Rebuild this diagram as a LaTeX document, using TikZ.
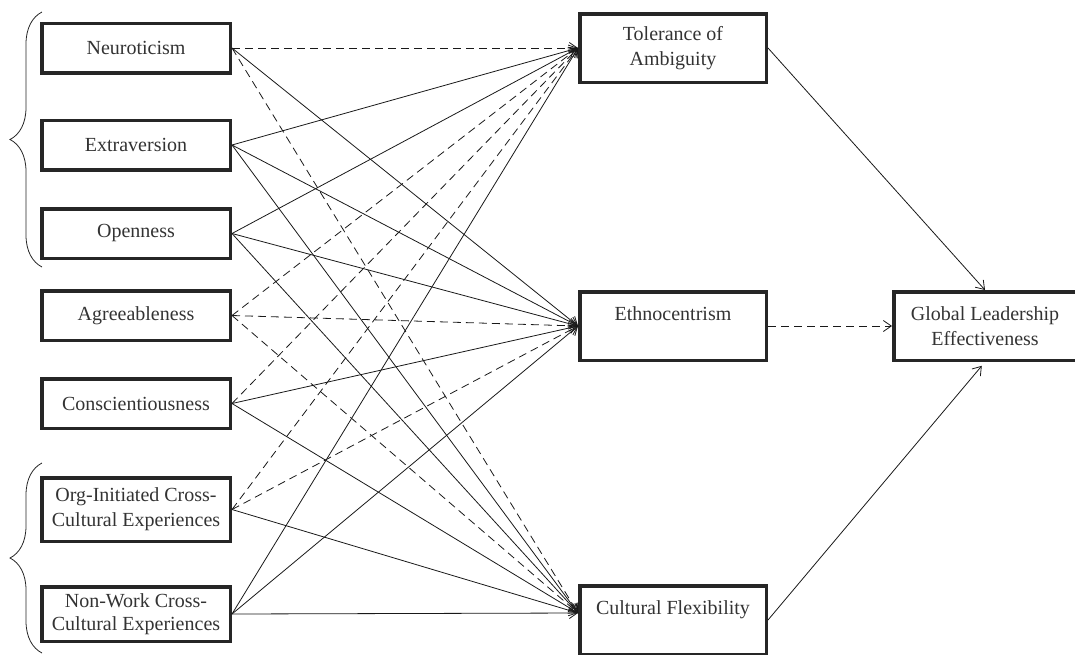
\documentclass[tikz,border=0pt]{standalone}
\usepackage{fontspec}
\setmainfont{Liberation Serif}
\usetikzlibrary{arrows.meta,decorations.pathreplacing}
\begin{document}
\begin{tikzpicture}[x=1pt, y=-1pt,
  box/.style={draw=black!85, line width=3.5pt, text=black!80, align=center, inner sep=0pt, font=\fontsize{20}{25}\selectfont},
  lbox/.style={box, minimum width=188.5pt, minimum height=49.5pt},
  mbox/.style={box, minimum width=186.5pt, minimum height=68.5pt},
  solidarr/.style={draw=black!90, line width=0.8pt, -{Straight Barb[length=8pt,width=11pt]}},
  dasharr/.style={solidarr, dash pattern=on 8pt off 5pt},
  grp/.style={draw=black!85, line width=0.8pt, decorate, decoration={brace, amplitude=32pt}}]
\useasboundingbox (0,0) rectangle (1075,654);

\node [lbox] (neuro) at (136,48) {Neuroticism};
\node [lbox] (extra) at (136,145) {Extraversion};
\node [lbox] (open) at (136,233.5) {Openness};
\node [lbox] (agree) at (136,315.5) {Agreeableness};
\node [lbox] (consc) at (136,403.5) {Conscientiousness};
\node [lbox, minimum height=63.5pt] (orgcc) at (136,509.5) {Org-Initiated Cross-\\Cultural Experiences};
\node [lbox, minimum height=54.5pt, font=\fontsize{20}{23}\selectfont] (nonwork) at (136,614) {Non-Work Cross-\\Cultural Experiences};

\draw [grp] (42,267) -- (42,12);
\draw [grp] (42,653) -- (42,463);

\node [mbox] (tol) at (673,48) {Tolerance of\\Ambiguity};
\node [mbox] (ethno) at (673,326) {Ethnocentrism\\~};
\node [mbox] (cflex) at (673,620) {Cultural Flexibility\\~};
\node [box, minimum width=182.5pt, minimum height=68.5pt] (gle) at (985,326) {Global Leadership\\Effectiveness};
\coordinate (cfin) at ([yshift=7pt]cflex.west);

\draw [dasharr] (neuro.east) -- (tol.west);
\draw [solidarr] (neuro.east) -- (ethno.west);
\draw [dasharr] (neuro.east) -- (cfin);

\draw [solidarr] (extra.east) -- (tol.west);
\draw [solidarr] (extra.east) -- (ethno.west);
\draw [solidarr] (extra.east) -- (cfin);

\draw [solidarr] (open.east) -- (tol.west);
\draw [solidarr] (open.east) -- (ethno.west);
\draw [solidarr] (open.east) -- (cfin);

\draw [dasharr] (agree.east) -- (tol.west);
\draw [dasharr] (agree.east) -- (ethno.west);
\draw [dasharr] (agree.east) -- (cfin);

\draw [dasharr] (consc.east) -- (tol.west);
\draw [solidarr] (consc.east) -- (ethno.west);
\draw [solidarr] (consc.east) -- (cfin);

\draw [dasharr] (orgcc.east) -- (tol.west);
\draw [dasharr] (orgcc.east) -- (ethno.west);
\draw [solidarr] (orgcc.east) -- (cfin);

\draw [solidarr] (nonwork.east) -- (tol.west);
\draw [solidarr] (nonwork.east) -- (ethno.west);
\draw [solidarr] (nonwork.east) -- (cfin);

\draw [solidarr] (tol.east) -- (gle.north);
\draw [dasharr] (ethno.east) -- (gle.west);
\draw [solidarr, shorten >=5pt] (cflex.east) -- (gle.south);

\end{tikzpicture}
\end{document}
